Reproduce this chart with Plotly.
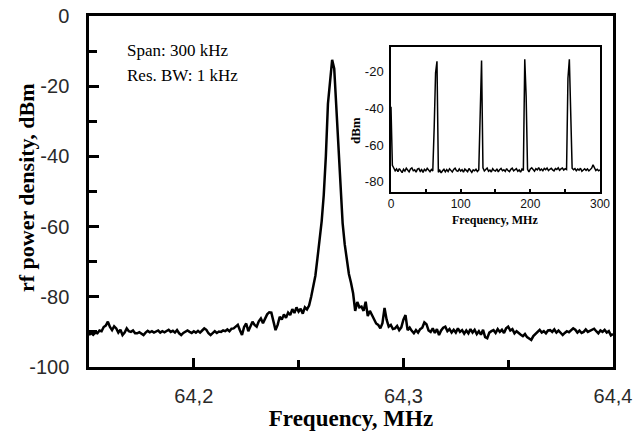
import numpy as np
import plotly.graph_objects as go

# ---------------- data ----------------
# main spectrum: analyzer sweep, 1 kHz point spacing from 64.150 to 64.400 MHz
main_start_mhz = 64.150
main_step_mhz = 0.001
main_dbm = [
    -90.9, -90.3, -90.8, -90.2, -90.4, -89.6, -89.8, -88.6, -88.2, -87.1,
    -88.6, -89.5, -88.4, -89.0, -90.2, -89.4, -90.9, -90.2, -89.0, -89.8,
    -90.0, -89.6, -90.4, -90.4, -90.1, -90.6, -90.9, -90.2, -89.7, -90.1,
    -89.8, -90.2, -90.0, -89.6, -90.2, -89.8, -90.1, -89.8, -89.4, -90.0,
    -89.7, -90.2, -89.5, -90.4, -90.9, -90.3, -90.0, -89.6, -90.0, -90.3,
    -89.8, -90.2, -89.7, -90.2, -89.6, -89.0, -89.4, -90.4, -90.9, -90.2,
    -89.8, -90.3, -89.9, -90.0, -89.6, -89.8, -89.3, -89.8, -89.1, -89.0,
    -88.4, -88.0, -89.5, -90.9, -88.6, -87.6, -89.8, -88.2, -87.1, -88.0,
    -88.5, -87.0, -86.2, -87.5, -86.0, -85.0, -84.4, -84.5, -87.0, -89.5,
    -88.0, -85.7, -86.5, -85.0, -86.0, -84.5, -85.2, -83.5, -84.6, -83.0,
    -84.2, -83.4, -84.8, -83.0, -83.6, -82.5, -80.0, -77.0, -74.0, -69.0,
    -64.0, -58.5, -51.0, -40.0, -25.0, -17.5, -12.5, -15.0, -26.0, -37.0,
    -50.0, -59.0, -65.0, -69.5, -73.5, -76.0, -79.0, -84.0, -81.5, -83.0,
    -82.8, -84.0, -81.4, -85.5, -84.0, -85.2, -86.5, -87.6, -88.0, -89.0,
    -87.5, -83.2, -86.5, -88.5, -88.0, -89.2, -89.0, -88.3, -89.5, -88.7,
    -86.5, -85.2, -89.5, -88.8, -89.7, -90.4, -89.5, -90.2, -89.2, -88.8,
    -87.3, -87.8, -89.6, -90.0, -89.0, -90.3, -89.2, -90.9, -89.6, -88.8,
    -88.5, -89.8, -89.2, -90.2, -89.4, -90.2, -89.0, -90.0, -89.5, -90.5,
    -89.6, -90.4, -89.2, -90.2, -89.4, -90.6, -89.8, -90.8, -89.4, -91.5,
    -91.8, -90.2, -89.8, -89.5, -90.3, -89.2, -90.0, -89.4, -90.3, -89.0,
    -88.5, -89.6, -89.2, -90.4, -89.8, -90.4, -90.8, -91.2, -90.6, -91.5,
    -92.0, -92.3, -91.2, -90.5, -90.0, -89.4, -90.2, -89.8, -90.4, -89.6,
    -89.5, -90.0, -89.3, -90.2, -89.6, -90.4, -90.9, -90.3, -89.8, -90.1,
    -89.5, -89.0, -89.4, -90.2, -89.6, -90.3, -90.0, -89.3, -90.0, -89.7,
    -89.3, -89.1, -89.8, -90.4, -89.6, -90.0, -89.4, -90.2, -89.8, -91.0,
    -90.6,
]
main_freq = np.round(main_start_mhz + main_step_mhz * np.arange(len(main_dbm)), 3)

# inset: wide span spectrum, 2 MHz point spacing from 0 to 300 MHz
inset_step_mhz = 2.0
inset_dbm = [
    -39.0, -71.0, -72.5, -74.0, -73.0, -74.5, -72.8, -73.6, -75.0, -73.2,
    -74.2, -72.6, -73.8, -74.6, -73.0, -72.4, -74.0, -73.5, -74.8, -73.1,
    -72.8, -74.3, -73.4, -74.9, -73.2, -74.0, -72.7, -73.9, -74.5, -73.3,
    -74.1, -50.5, -20.5, -14.2, -74.8, -73.7, -75.2, -74.0, -73.2, -74.6,
    -73.4, -74.4, -72.9, -73.8, -74.7, -73.3, -72.6, -73.9, -74.3, -73.0,
    -74.2, -73.4, -74.8, -73.1, -73.9, -74.5, -72.8, -73.7, -74.9, -73.5,
    -74.0, -73.2, -74.4, -73.6, -42.5, -13.8, -72.4, -74.1, -73.3, -72.5,
    -74.3, -73.6, -74.7, -72.9, -73.8, -74.2, -73.0, -74.6, -73.4, -72.7,
    -74.0, -73.5, -74.4, -72.8, -73.9, -74.5, -73.2, -72.6, -74.1, -73.4,
    -72.9, -74.3, -73.6, -74.8, -73.1, -73.8, -13.1, -33.5, -73.2, -74.6,
    -73.0, -72.4, -73.7, -74.2, -72.9, -73.5, -72.3, -73.8, -73.1, -74.0,
    -72.7, -73.4, -72.5, -73.9, -73.2, -72.6, -73.5, -74.1, -72.8, -73.3,
    -72.4, -73.7, -73.0, -72.5, -73.6, -72.9, -73.3, -23.5, -13.1, -41.0,
    -72.6, -73.4, -72.8, -74.0, -73.1, -73.7, -72.6, -74.3, -73.5, -72.9,
    -73.8, -73.0, -74.1, -73.3, -72.6, -70.8, -72.7, -73.9, -73.2, -74.0,
    -73.5,
]
inset_freq = inset_step_mhz * np.arange(len(inset_dbm))

# tick labels
main_x_tickvals = [64.2, 64.3, 64.4]
main_x_ticktext = ["64,2", "64,3", "64,4"]
main_x_minor = [64.25, 64.35]
main_y_tickvals = [0, -20, -40, -60, -80, -100]
main_y_ticktext = ["0", "-20", "-40", "-60", "-80", "-100"]
main_y_minor = [-10, -30, -50, -70, -90]
inset_x_tickvals = [0, 100, 200, 300]
inset_x_ticktext = ["0", "100", "200", "300"]
inset_x_minor = [50, 150, 250]
inset_y_tickvals = [-20, -40, -60, -80]
inset_y_ticktext = ["-20", "-40", "-60", "-80"]

# ---------------- figure ----------------
SANS = "Liberation Sans, Arial, sans-serif"
SERIF = "Liberation Serif, Times New Roman, serif"

fig = go.Figure()
fig.add_trace(go.Scatter(
    x=main_freq, y=main_dbm, mode="lines",
    line=dict(color="black", width=2.5), showlegend=False, hoverinfo="skip",
))
fig.add_trace(go.Scatter(
    x=inset_freq, y=inset_dbm, mode="lines", xaxis="x2", yaxis="y2",
    line=dict(color="black", width=1.5), showlegend=False, hoverinfo="skip",
))

fig.update_layout(
    width=636, height=431,
    margin=dict(l=89, r=23, t=16, b=64, autoexpand=False),
    paper_bgcolor="white", plot_bgcolor="white",
    showlegend=False,
    xaxis=dict(
        range=[64.15, 64.4], showgrid=False, zeroline=False, automargin=False,
        showline=True, linecolor="black", linewidth=2.5, mirror=True,
        tickmode="array", tickvals=main_x_tickvals, ticktext=main_x_ticktext,
        ticks="inside", ticklen=9, tickwidth=2.5, tickcolor="black",
        minor=dict(tickmode="array", tickvals=main_x_minor, ticks="inside",
                   ticklen=7, tickwidth=2.5, tickcolor="black", showgrid=False),
        tickfont=dict(family=SANS, size=20, color="#2a2a2a"),
        ticklabelstandoff=9,
        title=dict(text="Frequency, MHz", standoff=0,
                   font=dict(family=SERIF, size=23, color="black", weight="bold")),
    ),
    yaxis=dict(
        range=[-100, 0], showgrid=False, zeroline=False, automargin=False,
        showline=True, linecolor="black", linewidth=2.5, mirror=True,
        tickmode="array", tickvals=main_y_tickvals, ticktext=main_y_ticktext,
        ticks="inside", ticklen=10, tickwidth=2.5, tickcolor="black",
        minor=dict(tickmode="array", tickvals=main_y_minor, ticks="inside",
                   ticklen=8, tickwidth=2.5, tickcolor="black", showgrid=False),
        tickfont=dict(family=SANS, size=20, color="#2a2a2a"),
        ticklabelstandoff=13,
    ),
    xaxis2=dict(
        domain=[0.5763, 0.9752], anchor="y2", range=[0, 300], automargin=False,
        showgrid=False, zeroline=False,
        showline=True, linecolor="black", linewidth=1.5, mirror=True,
        tickmode="array", tickvals=inset_x_tickvals, ticktext=inset_x_ticktext,
        ticks="inside", ticklen=3, tickwidth=1.5, tickcolor="black",
        minor=dict(tickmode="array", tickvals=inset_x_minor, ticks="inside",
                   ticklen=3, tickwidth=1.5, tickcolor="black", showgrid=False),
        tickfont=dict(family=SANS, size=12, color="#111111"),
        ticklabelstandoff=0,
    ),
    yaxis2=dict(
        domain=[0.4986, 0.9117], anchor="x2", range=[-85.6, -6.4], automargin=False,
        showgrid=False, zeroline=False,
        showline=True, linecolor="black", linewidth=1.5, mirror=True,
        tickmode="array", tickvals=inset_y_tickvals, ticktext=inset_y_ticktext,
        ticks="",
        tickfont=dict(family=SANS, size=13, color="#111111"),
        ticklabelstandoff=3,
    ),
    annotations=[
        dict(text="rf power density, dBm", xref="paper", yref="paper",
             x=-0.1183, y=0.51, xanchor="center", yanchor="middle",
             textangle=-90, showarrow=False,
             font=dict(family=SERIF, size=22, color="black", weight="bold")),
        dict(text="Span: 300 kHz", xref="paper", yref="paper",
             x=0.0687, y=0.9031, xanchor="left", yanchor="middle",
             showarrow=False, font=dict(family=SERIF, size=17, color="black")),
        dict(text="Res. BW: 1 kHz", xref="paper", yref="paper",
             x=0.0687, y=0.8291, xanchor="left", yanchor="middle",
             showarrow=False, font=dict(family=SERIF, size=17, color="black")),
        dict(text="dBm", xref="paper", yref="paper",
             x=0.5076, y=0.675, xanchor="center", yanchor="middle",
             textangle=-90, showarrow=False,
             font=dict(family=SERIF, size=13, color="black", weight="bold")),
        dict(text="Frequency, MHz", xref="paper", yref="paper",
             x=0.7757, y=0.418, xanchor="center", yanchor="middle",
             showarrow=False,
             font=dict(family=SERIF, size=12, color="black", weight="bold")),
    ],
)

fig.write_html(
    "out.html",
    config={"displayModeBar": False},
    post_script="document.body.style.margin='0';document.body.style.padding='0';",
)
